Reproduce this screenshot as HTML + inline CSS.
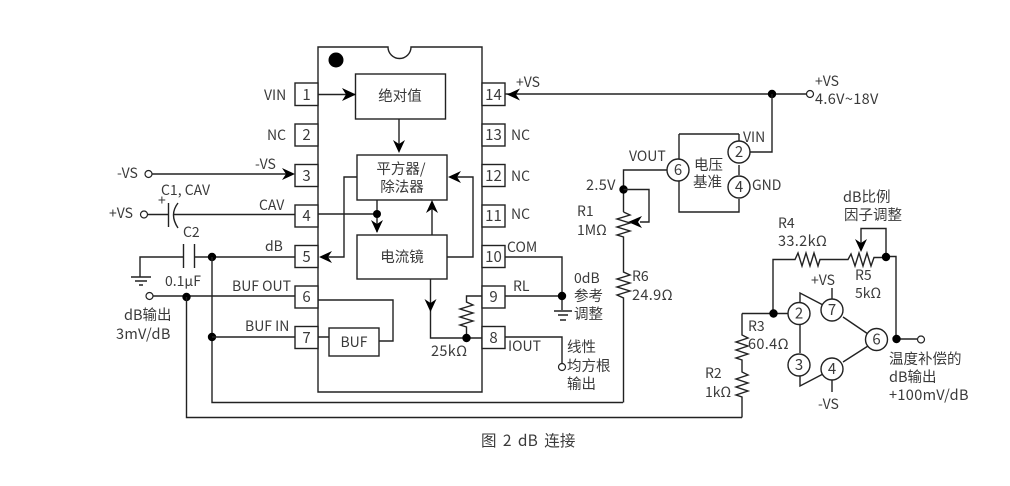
<!DOCTYPE html>
<html><head><meta charset="utf-8"><style>
html,body{margin:0;padding:0;background:#fff}
svg{display:block}
text{font-family:"Noto Sans CJK SC","Liberation Sans",sans-serif;font-size:14px;fill:#3a3a3a}
.w{fill:none;stroke:#222;stroke-width:1.4}
.b{fill:#fff;stroke:#222;stroke-width:1.4}
.d{fill:#000;stroke:none}
.o{fill:#fff;stroke:#222;stroke-width:1.2}
.c{text-anchor:middle}
.n{font-size:15px;text-anchor:middle}
text.l{font-size:14.500px;letter-spacing:.35px}
text.z{font-size:14.500px}
</style></head><body>
<svg width="1010" height="486" viewBox="0 0 1010 486" xmlns="http://www.w3.org/2000/svg">
<!-- chip -->
<path class="w" d="M318 47H388A11 11 0 0 0 411 47H482V392H318Z"/>
<circle class="d" cx="336" cy="60" r="7.500"/>
<!-- pins -->
<g class="b">
<rect x="295" y="83" width="23" height="22.500"/><rect x="295" y="124" width="23" height="22"/><rect x="295" y="164.500" width="23" height="22"/><rect x="295" y="205" width="23" height="22"/><rect x="295" y="245.500" width="23" height="22"/><rect x="295" y="286" width="23" height="22"/><rect x="295" y="326.500" width="23" height="22"/>
<rect x="482" y="83" width="23" height="22.500"/><rect x="482" y="124" width="23" height="22"/><rect x="482" y="164.500" width="23" height="22"/><rect x="482" y="205" width="23" height="22"/><rect x="482" y="245.500" width="23" height="22"/><rect x="482" y="286" width="23" height="22"/><rect x="482" y="326.500" width="23" height="22"/>
</g>
<g>
<text class="n" x="306.500" y="100">1</text><text class="n" x="306.500" y="140">2</text><text class="n" x="306.500" y="181">3</text><text class="n" x="306.500" y="221">4</text><text class="n" x="306.500" y="262">5</text><text class="n" x="306.500" y="302">6</text><text class="n" x="306.500" y="343">7</text>
<text class="n" x="493.500" y="100">14</text><text class="n" x="493.500" y="140">13</text><text class="n" x="493.500" y="181">12</text><text class="n" x="493.500" y="221">11</text><text class="n" x="493.500" y="262">10</text><text class="n" x="493.500" y="302">9</text><text class="n" x="493.500" y="343">8</text>
</g>
<!-- blocks -->
<rect class="b" x="355.500" y="74" width="90" height="45"/>
<rect class="b" x="357" y="155" width="90" height="45"/>
<rect class="b" x="357" y="235" width="90" height="44"/>
<rect class="b" x="329" y="328" width="50" height="28"/>
<text class="c z" x="400" y="101">绝对值</text>
<text class="c z" x="401" y="174">平方器/</text>
<text class="c z" x="402" y="192">除法器</text>
<text class="c z" x="402" y="262">电流镜</text>
<text class="c" x="354" y="347">BUF</text>
<!-- internal wiring -->
<path class="w" d="M318 94.500H355"/>
<path class="d" d="M356 94.500L342 88L346 94.500L342 101Z"/>
<path class="w" d="M399 119V150"/>
<path class="d" d="M399 153L393 140L399 144L405 140Z"/>
<path class="w" d="M357 177H344V257H322"/>
<path class="d" d="M319 257L332 251L328 257L332 263Z"/>
<path class="w" d="M318 214H377"/>
<path class="w" d="M377 200V232"/>
<circle class="d" cx="377" cy="214" r="4"/>
<path class="d" d="M377 233L371 220L377 224L383 220Z"/>
<path class="w" d="M432 235V203"/>
<path class="d" d="M432 200L426 213L432 209L438 213Z"/>
<path class="w" d="M447 257H473V177H451"/>
<path class="d" d="M448 177L461 171L457 177L461 183Z"/>
<path class="w" d="M430.500 279V338H482"/>
<path class="d" d="M430.500 312L424.500 299L430.500 303L436.500 299Z"/>
<path class="w" d="M482 296H466.500V302L473 305L460 309L473 313L460 317L473 321L460 325L466.500 327V338"/>
<circle class="d" cx="466.500" cy="338" r="4.200"/>
<path class="w" d="M318 337H329M379 341H393V300H318"/>
<!-- left externals -->
<circle class="o" cx="148.500" cy="174" r="3.500"/>
<path class="w" d="M152 174H290"/>
<path class="d" d="M295 174L282 168L286 174L282 180Z"/>
<circle class="o" cx="144" cy="214.500" r="3.500"/>
<path class="w" d="M148 214.500H168M173 214.500H295"/>
<path class="w" d="M168.500 203V227"/>
<path class="w" d="M178 203Q169 214.500 178 228"/>
<path class="w" d="M140 277V257H183M195 257H295"/>
<path class="w" d="M183.500 244V268M194.500 244V268"/>
<path class="w" d="M131 277H151M135 281H147M139 285H143"/>
<circle class="d" cx="212" cy="257" r="4.200"/>
<circle class="o" cx="149.500" cy="296" r="3.500"/>
<path class="w" d="M153 296H295"/>
<circle class="d" cx="186.500" cy="297" r="4.200"/>
<path class="w" d="M212 257V402.500H623"/>
<circle class="d" cx="212" cy="337" r="4.200"/>
<path class="w" d="M212 337H295"/>
<path class="w" d="M186.500 297V417.500H742"/>
<!-- right of chip -->
<path class="w" d="M505 94H807"/>
<path class="d" d="M507 94.500L520 88.500L516 94.500L520 100.500Z"/>
<circle class="d" cx="772" cy="94" r="4.200"/>
<circle class="o" cx="810" cy="94" r="3.500"/>
<path class="w" d="M505 257H562V296M505 296H562M562 296V310M505 337H562V364"/>
<circle class="d" cx="562" cy="296" r="4.200"/>
<path class="w" d="M554 311H572M558 315H568M560 320H566"/>
<circle class="o" cx="562" cy="367" r="3.500"/>
<!-- reference -->
<path class="w" d="M679 134H739M679 134V160M679 179V212H739V199M739 134V145M739 165V175"/>
<path class="w" d="M750 152H772V94"/>
<circle class="b" cx="739" cy="152" r="11"/>
<circle class="b" cx="739" cy="187" r="11"/>
<circle class="b" cx="678" cy="170" r="11"/>
<text class="n" x="739" y="157">2</text><text class="n" x="739" y="192">4</text><text class="n" x="678" y="175">6</text>
<path class="w" d="M667 170H623.500V212"/>
<circle class="d" cx="623.500" cy="189.500" r="4.200"/>
<path class="w" d="M623.500 189.500H649V222H640"/>
<path class="d" d="M628 222L642 216L638 222L642 228Z"/>
<path class="w" d="M623.500 212L630 215L617 219L630 223L617 227L630 231L617 235L623.500 237V272L630 275L617 279L630 283L617 287L630 291L617 295L623.500 298V402.500"/>
<!-- amplifier area -->
<path class="w" d="M773 313V259.500H795L798 253L802 266L806 253L810 266L814 253L818 266L820 259.500H848L851 254L855 266L859 253L863 266L867 253L871 266L874 257.500H886"/>
<path class="w" d="M886 256.500H896V339H917"/>
<path class="w" d="M886 256V228.500H861V245"/>
<path class="d" d="M861 252L855 239L861 243L867 239Z"/>
<circle class="d" cx="886" cy="257" r="4.200"/>
<circle class="d" cx="896.500" cy="339" r="4.200"/>
<circle class="o" cx="921" cy="339.500" r="3.500"/>
<path class="w" d="M742 313.500H788"/>
<circle class="d" cx="773.500" cy="313.500" r="4.200"/>
<path class="w" d="M742 313.500V335L748 338L736 342L748 346L736 350L748 354L736 358L742 360V372L748 375L736 379L748 383L736 387L748 391L736 395L742 397V417.500"/>
<path class="w" d="M800 323V353M800 305V293L823 305M800 373V386L823 374"/>
<path class="w" d="M843 317L868 334M843 362L868 346"/>
<path class="w" d="M832 299V288M832 380V392"/>
<circle class="b" cx="799" cy="313.500" r="11"/>
<circle class="b" cx="832" cy="310" r="11"/>
<circle class="b" cx="799" cy="365" r="11"/>
<circle class="b" cx="832" cy="369" r="11"/>
<circle class="b" cx="876.500" cy="339.500" r="11"/>
<text class="n" x="799" y="318.500">2</text><text class="n" x="832" y="315">7</text><text class="n" x="799" y="370">3</text><text class="n" x="832" y="374">4</text><text class="n" x="876.500" y="344.500">6</text>
<!-- labels -->
<text x="264" y="100">VIN</text><text x="267" y="140">NC</text>
<text x="255" y="169">-VS</text><text x="259" y="210">CAV</text>
<text x="265" y="251">dB</text><text x="232" y="291">BUF OUT</text><text x="245" y="331">BUF IN</text>
<text x="117" y="178">-VS</text><text x="109" y="218">+VS</text>
<text x="161" y="195">C1, CAV</text><text x="158" y="205">+</text>
<text x="183" y="237">C2</text><text x="165" y="286">0.1μF</text>
<text class="z" x="124" y="320">dB输出</text><text class="l" x="116" y="339">3mV/dB</text>
<text x="516" y="87">+VS</text><text x="511" y="140">NC</text><text x="511" y="181">NC</text><text x="511" y="219">NC</text>
<text x="507" y="252">COM</text><text x="513" y="291">RL</text><text x="508" y="351">IOUT</text>
<text x="574" y="283">0dB</text><text class="z" x="574" y="301">参考</text><text class="z" x="574" y="319">调整</text>
<text class="z" x="567" y="352">线性</text><text class="z" x="567" y="371">均方根</text><text class="z" x="567" y="389">输出</text>
<text class="l" x="431" y="356">25kΩ</text>
<text x="815" y="86">+VS</text><text class="l" x="815" y="104">4.6V~18V</text>
<text x="743" y="142">VIN</text><text x="752" y="190">GND</text>
<text x="629" y="161">VOUT</text><text class="l" x="586" y="190">2.5V</text>
<text class="z" x="694" y="170">电压</text><text class="z" x="693" y="187">基准</text>
<text x="577" y="216">R1</text><text x="577" y="235">1MΩ</text>
<text x="632" y="281">R6</text><text class="l" x="632" y="300">24.9Ω</text>
<text x="778" y="228">R4</text><text class="l" x="778" y="246">33.2kΩ</text>
<text class="z" x="843" y="202">dB比例</text><text class="z" x="844" y="220">因子调整</text>
<text x="855" y="280">R5</text><text x="855" y="298">5kΩ</text>
<text x="811" y="285">+VS</text><text x="818" y="409">-VS</text>
<text x="748" y="331">R3</text><text class="l" x="748" y="349">60.4Ω</text>
<text x="705" y="378">R2</text><text x="705" y="397">1kΩ</text>
<text class="z" x="889" y="364">温度补偿的</text><text class="z" x="889" y="382">dB输出</text><text class="l" x="889" y="400">+100mV/dB</text>
<text x="481" y="446" style="font-size:15.500px;word-spacing:2.500px;letter-spacing:.2px">图 2 dB 连接</text>
</svg>
</body></html>
